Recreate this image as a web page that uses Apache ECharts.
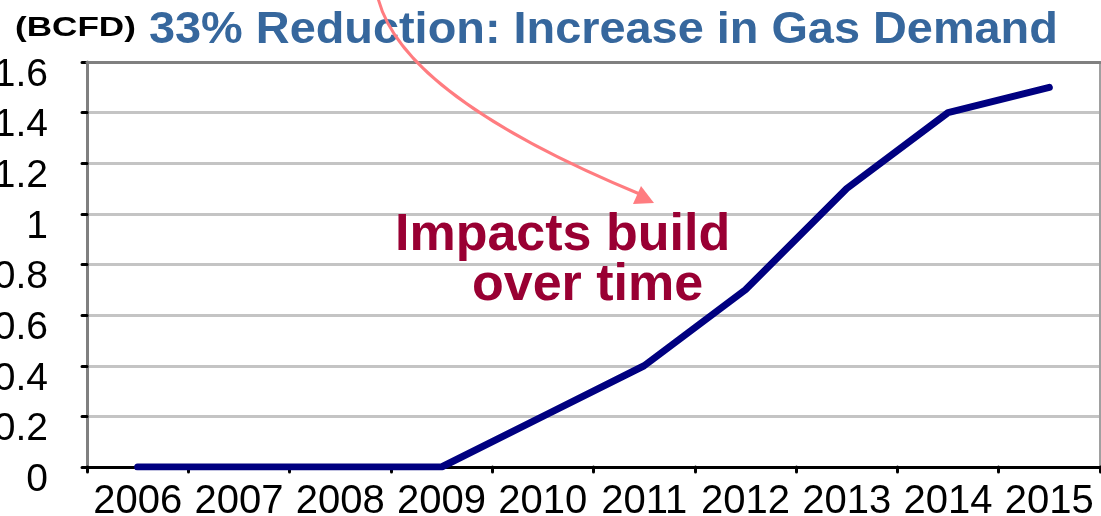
<!DOCTYPE html>
<html>
<head>
<meta charset="utf-8">
<script src="https://cdn.jsdelivr.net/npm/echarts@6/dist/echarts.min.js"></script>
<style>
  html, body { margin: 0; padding: 0; background: #ffffff; }
  #chart { width: 1101px; height: 516px; }
</style>
</head>
<body>
<div id="chart"></div>
<script>
// ---- data ----
const years = ['2006', '2007', '2008', '2009', '2010', '2011', '2012', '2013', '2014', '2015'];
const gasDemand = [0, 0, 0, 0, 0.2, 0.4, 0.7, 1.1, 1.4, 1.5];
const yMin = 0;
const yMax = 1.6;
const yStep = 0.2;
const unitLabel = '(BCFD)';
const titleText = '33% Reduction: Increase in Gas Demand';
const noteLine1 = 'Impacts build';
const noteLine2 = 'over time';

const FONT = '"Liberation Sans", Arial, sans-serif';

const chart = echarts.init(document.getElementById('chart'), null, { renderer: 'canvas' });

const option = {
  animation: false,
  backgroundColor: '#ffffff',
  grid: {
    left: 87, right: 1, top: 62, bottom: 49,
    containLabel: false,
    outerBoundsMode: 'none',
    show: false
  },
  xAxis: [
    {
      type: 'category',
      data: years,
      boundaryGap: true,
      position: 'bottom',
      axisLine: { show: true, onZero: false, lineStyle: { color: '#000000', width: 3 } },
      axisTick: { show: true, length: 5, lineStyle: { color: '#000000', width: 3, cap: 'round' } },
      axisLabel: { color: '#000000', fontSize: 40, fontFamily: FONT, margin: 15, interval: 0 },
      splitLine: { show: false },
      z: 3
    },
    {
      type: 'category',
      data: years,
      position: 'top',
      axisLine: { show: true, onZero: false, lineStyle: { color: '#808080', width: 3 } },
      axisTick: { show: false },
      axisLabel: { show: false },
      splitLine: { show: false },
      z: 3
    }
  ],
  yAxis: [
    {
      type: 'value',
      min: yMin,
      max: yMax,
      interval: yStep,
      position: 'left',
      axisLine: { show: true, onZero: false, lineStyle: { color: '#808080', width: 3 } },
      axisTick: { show: true, inside: false, length: 5, lineStyle: { color: '#000000', width: 3, cap: 'round' } },
      axisLabel: {
        color: '#000000', fontSize: 39, fontFamily: FONT, margin: 39,
        verticalAlign: 'top', lineHeight: 26,
        formatter: function (v) { return String(Math.round(v * 10) / 10); }
      },
      splitLine: { show: true, lineStyle: { color: '#C4C4C4', width: 3, type: 'solid' } }
    },
    {
      type: 'value',
      min: yMin,
      max: yMax,
      interval: yStep,
      position: 'right',
      axisLine: { show: true, onZero: false, lineStyle: { color: '#A0A0A0', width: 2 } },
      axisTick: { show: false },
      axisLabel: { show: false },
      splitLine: { show: false }
    }
  ],
  series: [
    {
      type: 'line',
      data: gasDemand,
      xAxisIndex: 0,
      yAxisIndex: 0,
      showSymbol: false,
      symbol: 'none',
      lineStyle: { color: '#000080', width: 7, cap: 'round', join: 'round' },
      z: 5
    }
  ],
  graphic: [
    {
      type: 'text',
      x: 15, y: 29,
      scaleX: 1.3,
      style: {
        text: unitLabel, fill: '#000000',
        font: 'bold 27px ' + FONT,
        align: 'left', verticalAlign: 'middle'
      }
    },
    {
      type: 'text',
      x: 149, y: 31,
      scaleX: 1.065,
      style: {
        text: titleText, fill: '#36679D',
        font: 'bold 44px ' + FONT,
        align: 'left', verticalAlign: 'middle'
      }
    },
    {
      type: 'bezierCurve',
      shape: { x1: 378, y1: -2, cpx1: 392, cpy1: 55, cpx2: 465, cpy2: 122, x2: 642, y2: 195 },
      style: { stroke: '#FF7C80', lineWidth: 3, fill: null },
      z: 10
    },
    {
      type: 'polygon',
      shape: { points: [[654, 203], [633, 204], [641, 186]] },
      style: { fill: '#FF7C80' },
      z: 10
    },
    {
      type: 'text',
      x: 395, y: 236,
      style: {
        text: noteLine1, fill: '#990033',
        font: 'bold 52px ' + FONT,
        align: 'left', verticalAlign: 'middle'
      },
      z: 20
    },
    {
      type: 'text',
      x: 472, y: 286,
      style: {
        text: noteLine2, fill: '#990033',
        font: 'bold 52px ' + FONT,
        align: 'left', verticalAlign: 'middle'
      },
      z: 20
    }
  ]
};

chart.setOption(option);
</script>
</body>
</html>
